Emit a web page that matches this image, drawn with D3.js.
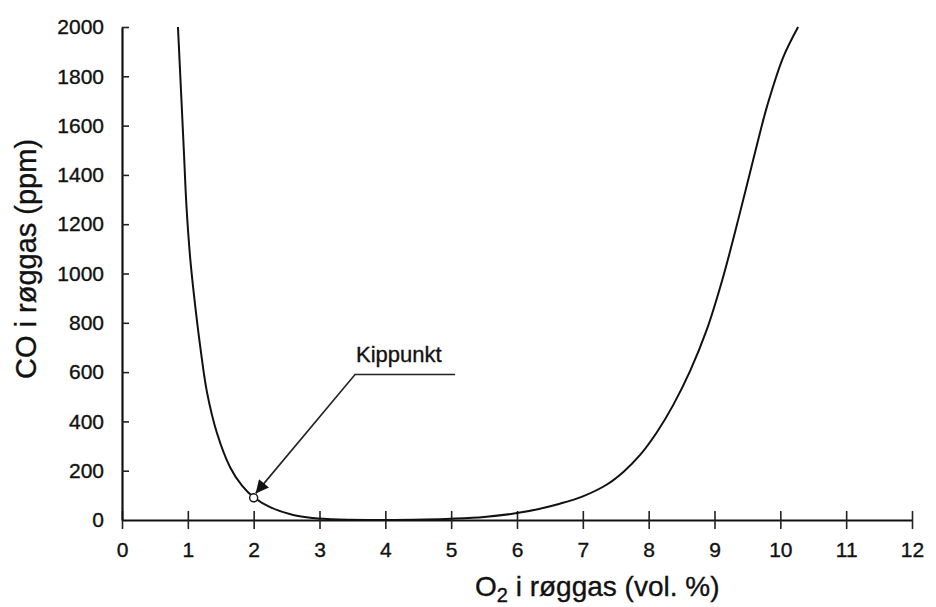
<!DOCTYPE html>
<html>
<head>
<meta charset="utf-8">
<script src="https://cdn.jsdelivr.net/npm/d3@7"></script>
<style>
  body { margin: 0; background: #fff; }
  svg text { font-family: "Liberation Sans", Arial, sans-serif; fill: #111; stroke: #111; stroke-width: 0.35px; }
</style>
</head>
<body>
<div id="chart"></div>
<script>
// O2 (vol. %) and CO (ppm)
var o2 = [0.85, 0.90, 0.94, 0.98, 1.04, 1.12, 1.19, 1.29, 1.44, 1.64, 1.82, 2.0, 2.25, 2.6, 2.9, 3.3, 4.0, 4.6, 5.0, 5.5, 6.0, 6.35, 6.65, 7.0, 7.36, 7.62, 7.87, 8.12, 8.37, 8.63, 8.88, 9.13, 9.39, 9.54, 9.69, 9.8, 10.04, 10.27];
var co = [2000, 1720, 1495, 1270, 1050, 850, 700, 520, 355, 215, 140, 92, 52, 20, 8, 2, 0, 2, 5, 12, 28, 46, 66, 96, 143, 196, 264, 354, 465, 605, 770, 985, 1250, 1410, 1570, 1680, 1875, 2000];

var xTicks = [0, 1, 2, 3, 4, 5, 6, 7, 8, 9, 10, 11, 12];
var yTicks = [0, 200, 400, 600, 800, 1000, 1200, 1400, 1600, 1800, 2000];

// tipping point and its callout
var kip = {x: 2.0, y: 90};
var callout = [[5.06, 590], [3.54, 590], [2.03, 108]];
var kipLabel = "Kippunkt";

var width = 936, height = 607;
var margin = {left: 122, right: 24, top: 27, bottom: 87};

var x = d3.scaleLinear().domain([0, 12]).range([margin.left, width - margin.right]);
var y = d3.scaleLinear().domain([0, 2000]).range([height - margin.bottom, margin.top]);

var svg = d3.select("#chart").append("svg")
    .attr("width", width)
    .attr("height", height);

svg.append("defs").append("marker")
    .attr("id", "head")
    .attr("viewBox", "0 0 10 10")
    .attr("refX", 10).attr("refY", 5)
    .attr("markerWidth", 19).attr("markerHeight", 13)
    .attr("markerUnits", "userSpaceOnUse")
    .attr("orient", "auto")
  .append("path")
    .attr("d", "M0,0 L10,5 L0,10 Z")
    .attr("fill", "#111");

// axes
var xAxis = svg.append("g")
    .attr("transform", "translate(0," + y(0) + ")")
    .call(d3.axisBottom(x).tickValues(xTicks).tickSize(9).tickSizeOuter(0).tickPadding(13));
xAxis.select(".domain").attr("stroke", "#111").attr("stroke-width", 2.2);
xAxis.selectAll(".tick line").attr("y1", -9).attr("stroke", "#222").attr("stroke-width", 1.6);
xAxis.selectAll(".tick text").attr("font-size", 21);

var yAxis = svg.append("g")
    .attr("transform", "translate(" + x(0) + ",0)")
    .call(d3.axisLeft(y).tickValues(yTicks).tickFormat(d3.format("d")).tickSize(7).tickSizeOuter(0).tickPadding(11));
yAxis.select(".domain").attr("stroke", "#111").attr("stroke-width", 2.2);
yAxis.selectAll(".tick line").attr("x2", 7).attr("stroke", "#222").attr("stroke-width", 1.6);
yAxis.selectAll(".tick text").attr("font-size", 21);
yAxis.selectAll(".tick").filter(function(d) { return d === 0; }).select("line").remove();
svg.selectAll(".tick text").style("fill", "#111");

// curve
var line = d3.line()
    .x(function(d, i) { return x(o2[i]); })
    .y(function(d) { return y(d); })
    .curve(d3.curveCatmullRom.alpha(0.5));

svg.append("path")
    .datum(co)
    .attr("d", line)
    .attr("fill", "none")
    .attr("stroke", "#111")
    .attr("stroke-width", 2);

// callout arrow
svg.append("path")
    .datum(callout)
    .attr("d", d3.line().x(function(d) { return x(d[0]); }).y(function(d) { return y(d[1]); }))
    .attr("fill", "none")
    .attr("stroke", "#222")
    .attr("stroke-width", 1.6)
    .attr("marker-end", "url(#head)");

svg.append("circle")
    .attr("cx", x(kip.x))
    .attr("cy", y(kip.y))
    .attr("r", 4)
    .attr("fill", "#fff")
    .attr("stroke", "#111")
    .attr("stroke-width", 1.4);

svg.append("text")
    .attr("x", x(callout[1][0]) + 1)
    .attr("y", y(callout[1][1]) - 13)
    .attr("font-size", 22)
    .text(kipLabel);

// axis titles
var xt = svg.append("text")
    .attr("x", 475)
    .attr("y", 596)
    .attr("font-size", 28);
xt.append("tspan").text("O");
xt.append("tspan").attr("font-size", 20).attr("dy", 6).text("2");
xt.append("tspan").attr("dy", -6).text(" i røggas (vol. %)");

svg.append("text")
    .attr("transform", "translate(36," + 259 + ") rotate(-90)")
    .attr("text-anchor", "middle")
    .attr("font-size", 29)
    .text("CO i røggas (ppm)");
</script>
</body>
</html>
